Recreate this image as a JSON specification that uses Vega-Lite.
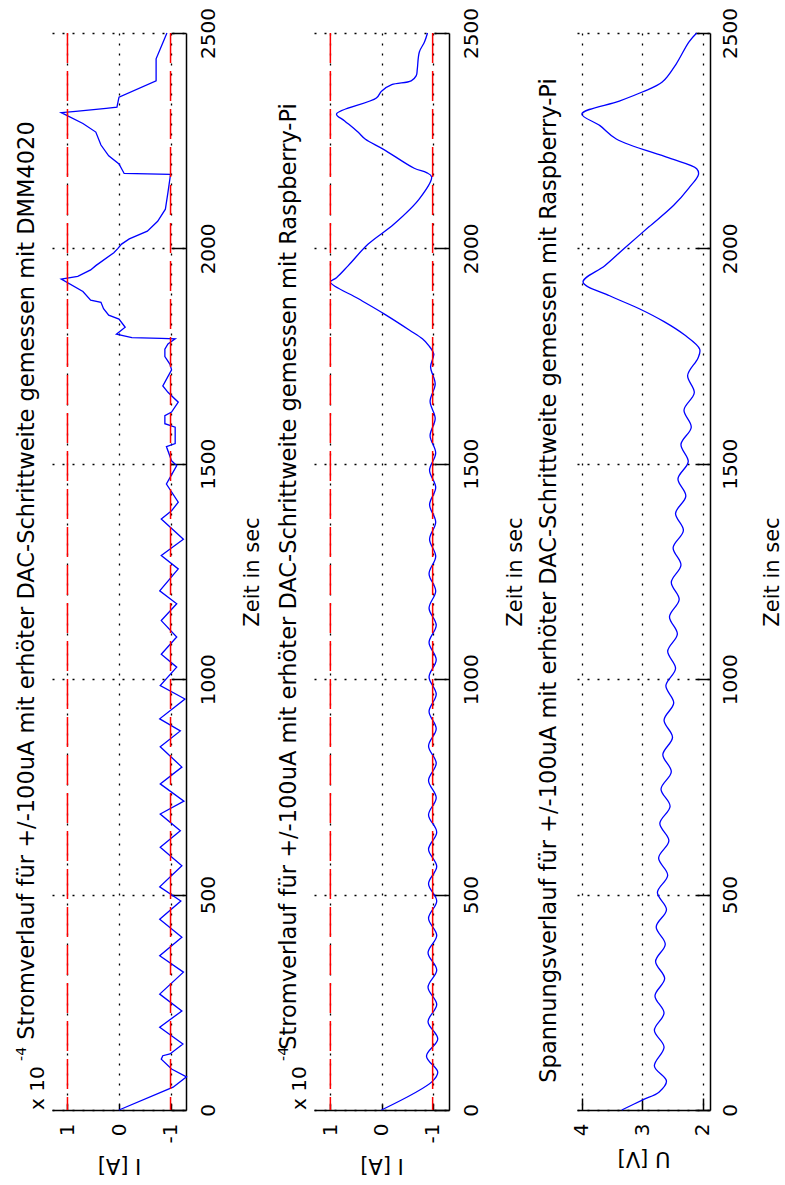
{
  "$schema": "https://vega.github.io/schema/vega-lite/v6.json",
  "background": "white",
  "padding": {"left": 14, "top": 7, "right": 0, "bottom": 0},
  "datasets": {
    "dmm": [
      {"t":0,"i":0},{"t":53,"i":-1.05},{"t":77,"i":-1.31},{"t":95,"i":-1.02},{"t":118,"i":-0.82},{"t":126,"i":-0.85},{"t":130,"i":-0.99},{"t":153,"i":-1.24},{"t":192,"i":-0.79},{"t":230,"i":-1.22},{"t":269,"i":-0.79},{"t":320,"i":-1.25},{"t":358,"i":-0.79},{"t":401,"i":-1.22},{"t":443,"i":-0.79},{"t":485,"i":-1.2},{"t":518,"i":-0.79},{"t":567,"i":-1.22},{"t":610,"i":-0.8},{"t":648,"i":-1.19},{"t":687,"i":-0.8},{"t":717,"i":-1.26},{"t":757,"i":-0.8},{"t":796,"i":-1.22},{"t":843,"i":-0.8},{"t":880,"i":-1.19},{"t":908,"i":-0.79},{"t":954,"i":-1.28},{"t":985,"i":-0.8},{"t":1028,"i":-1.12},{"t":1058,"i":-0.82},{"t":1098,"i":-1.12},{"t":1136,"i":-0.82},{"t":1175,"i":-1.12},{"t":1205,"i":-0.79},{"t":1256,"i":-1.15},{"t":1287,"i":-0.82},{"t":1325,"i":-1.25},{"t":1372,"i":-0.82},{"t":1391,"i":-1.02},{"t":1411,"i":-1.15},{"t":1453,"i":-0.92},{"t":1496,"i":-1.12},{"t":1507,"i":-1.02},{"t":1540,"i":-0.92},{"t":1547,"i":-1.09},{"t":1585,"i":-1.09},{"t":1593,"i":-0.89},{"t":1612,"i":-0.89},{"t":1620,"i":-1.02},{"t":1643,"i":-1.15},{"t":1666,"i":-0.95},{"t":1681,"i":-0.85},{"t":1718,"i":-1.02},{"t":1731,"i":-0.99},{"t":1749,"i":-0.89},{"t":1766,"i":-0.89},{"t":1778,"i":-0.95},{"t":1790,"i":-1.09},{"t":1791,"i":-0.82},{"t":1793,"i":-0.25},{"t":1801,"i":0.05},{"t":1817,"i":-0.12},{"t":1836,"i":0.0},{"t":1845,"i":0.2},{"t":1860,"i":0.3},{"t":1875,"i":0.35},{"t":1880,"i":0.55},{"t":1900,"i":0.7},{"t":1929,"i":1.12},{"t":1935,"i":0.8},{"t":1950,"i":0.55},{"t":1960,"i":0.45},{"t":1990,"i":0.1},{"t":2000,"i":0.02},{"t":2010,"i":-0.05},{"t":2022,"i":-0.2},{"t":2040,"i":-0.55},{"t":2063,"i":-0.75},{"t":2091,"i":-0.9},{"t":2130,"i":-0.95},{"t":2172,"i":-1.0},{"t":2174,"i":-0.1},{"t":2196,"i":0.0},{"t":2215,"i":0.2},{"t":2240,"i":0.35},{"t":2270,"i":0.45},{"t":2290,"i":0.7},{"t":2315,"i":1.12},{"t":2318,"i":0.84},{"t":2325,"i":0.25},{"t":2328,"i":0.04},{"t":2351,"i":0.0},{"t":2389,"i":-0.72},{"t":2440,"i":-0.72},{"t":2500,"i":-0.93}
    ],
    "rpi": [
      {"t":0,"i":0},{"t":67,"i":-1.0},{"t":88,"i":-1.1},{"t":125,"i":-0.88},{"t":165,"i":-1.1},{"t":205,"i":-0.91},{"t":245,"i":-1.08},{"t":285,"i":-0.91},{"t":325,"i":-1.08},{"t":365,"i":-0.91},{"t":405,"i":-1.08},{"t":445,"i":-0.92},{"t":485,"i":-1.08},{"t":525,"i":-0.92},{"t":565,"i":-1.08},{"t":605,"i":-0.92},{"t":645,"i":-1.08},{"t":685,"i":-0.92},{"t":725,"i":-1.07},{"t":765,"i":-0.92},{"t":805,"i":-1.07},{"t":845,"i":-0.92},{"t":885,"i":-1.07},{"t":925,"i":-0.93},{"t":965,"i":-1.07},{"t":1005,"i":-0.93},{"t":1045,"i":-1.07},{"t":1085,"i":-0.93},{"t":1125,"i":-1.07},{"t":1165,"i":-0.93},{"t":1205,"i":-1.06},{"t":1245,"i":-0.93},{"t":1285,"i":-1.06},{"t":1325,"i":-0.94},{"t":1365,"i":-1.06},{"t":1405,"i":-0.94},{"t":1445,"i":-1.06},{"t":1485,"i":-0.94},{"t":1525,"i":-1.06},{"t":1565,"i":-0.95},{"t":1605,"i":-1.05},{"t":1645,"i":-0.95},{"t":1685,"i":-1.05},{"t":1725,"i":-0.96},{"t":1755,"i":-1.02},{"t":1775,"i":-0.92},{"t":1790,"i":-0.8},{"t":1810,"i":-0.55},{"t":1848,"i":-0.05},{"t":1883,"i":0.45},{"t":1922,"i":1.0},{"t":1932,"i":0.88},{"t":1960,"i":0.65},{"t":2010,"i":0.26},{"t":2056,"i":-0.24},{"t":2115,"i":-0.74},{"t":2166,"i":-0.98},{"t":2176,"i":-0.88},{"t":2186,"i":-0.64},{"t":2230,"i":-0.04},{"t":2254,"i":0.32},{"t":2270,"i":0.46},{"t":2296,"i":0.72},{"t":2312,"i":0.88},{"t":2349,"i":0.1},{"t":2365,"i":0},{"t":2380,"i":-0.2},{"t":2389,"i":-0.58},{"t":2401,"i":-0.68},{"t":2416,"i":-0.7},{"t":2456,"i":-0.74},{"t":2479,"i":-0.84},{"t":2500,"i":-0.9}
    ],
    "volt": [
      {"t":0,"u":3.34},{"t":23,"u":3.0},{"t":42,"u":2.72},{"t":67,"u":2.6},{"t":102,"u":2.8},{"t":146,"u":2.64},{"t":185,"u":2.8},{"t":225,"u":2.64},{"t":265,"u":2.79},{"t":305,"u":2.63},{"t":345,"u":2.78},{"t":385,"u":2.62},{"t":425,"u":2.77},{"t":465,"u":2.6},{"t":505,"u":2.75},{"t":545,"u":2.58},{"t":585,"u":2.73},{"t":625,"u":2.56},{"t":665,"u":2.71},{"t":705,"u":2.54},{"t":745,"u":2.69},{"t":785,"u":2.52},{"t":825,"u":2.66},{"t":865,"u":2.5},{"t":905,"u":2.64},{"t":945,"u":2.48},{"t":985,"u":2.61},{"t":1025,"u":2.45},{"t":1065,"u":2.58},{"t":1105,"u":2.42},{"t":1145,"u":2.55},{"t":1185,"u":2.39},{"t":1225,"u":2.52},{"t":1265,"u":2.36},{"t":1305,"u":2.49},{"t":1345,"u":2.32},{"t":1385,"u":2.45},{"t":1425,"u":2.28},{"t":1465,"u":2.41},{"t":1505,"u":2.24},{"t":1545,"u":2.36},{"t":1585,"u":2.19},{"t":1625,"u":2.31},{"t":1665,"u":2.14},{"t":1705,"u":2.25},{"t":1745,"u":2.08},{"t":1766,"u":2.05},{"t":1800,"u":2.31},{"t":1830,"u":2.64},{"t":1860,"u":3.05},{"t":1890,"u":3.54},{"t":1922,"u":3.98},{"t":1960,"u":3.62},{"t":2000,"u":3.3},{"t":2050,"u":2.89},{"t":2100,"u":2.48},{"t":2140,"u":2.23},{"t":2172,"u":2.07},{"t":2185,"u":2.1},{"t":2210,"u":2.56},{"t":2254,"u":3.43},{"t":2285,"u":3.7},{"t":2312,"u":4.0},{"t":2342,"u":3.38},{"t":2363,"u":3.0},{"t":2386,"u":2.67},{"t":2428,"u":2.44},{"t":2479,"u":2.23},{"t":2500,"u":2.1}
    ]
  },
  "hconcat": [
    {
      "width": 134, "height": 1077,
      "title": {"text": "Stromverlauf für +/-100uA mit erhöter DAC-Schrittweite gemessen mit DMM4020", "orient": "left", "anchor": "middle", "frame": "group", "offset": -24, "dx": -9},
      "layer": [
        {
          "data": {"name": "dmm"},
          "mark": {"type": "line", "color": "#0000ff", "strokeWidth": 1.3},
          "encoding": {
            "x": {"field": "i", "type": "quantitative", "scale": {"domain": [-1.3, 1.3], "reverse": true, "nice": false, "zero": false},
                  "axis": {"orient": "bottom", "values": [-1, 0, 1], "labelExpr": "toString(datum.value)", "labelAngle": 270, "labelAlign": "right", "labelBaseline": "middle", "tickSize": -6, "labelPadding": 19, "title": "I [A]", "titleAngle": 180, "titleBaseline": "bottom", "titlePadding": 12}},
            "y": {"field": "t", "type": "quantitative", "scale": {"domain": [0, 2500], "nice": false},
                  "axis": {"orient": "right", "values": [0, 500, 1000, 1500, 2000, 2500], "format": "d", "labelAngle": 270, "labelAlign": "center", "labelBaseline": "top", "tickSize": -15, "labelPadding": 27, "title": "Zeit in sec", "titleAngle": 270, "titleBaseline": "top", "titlePadding": 23}},
            "order": {"field": "t", "type": "quantitative"}
          }
        },
        {
          "data": {"values": [{"lim": 1}, {"lim": -1}]},
          "mark": {"type": "rule", "color": "#ff0000", "strokeWidth": 1.5, "strokeDash": [30, 8]},
          "encoding": {"x": {"field": "lim", "type": "quantitative", "scale": {"domain": [-1.3, 1.3], "reverse": true, "nice": false, "zero": false}}}
        },
        {
          "data": {"values": [{"note": "x 10"}]},
          "mark": {"type": "text", "angle": 270, "align": "left", "baseline": "alphabetic", "fontSize": 20, "font": "DejaVu Sans", "color": "black"},
          "encoding": {"x": {"datum": 1.455, "type": "quantitative", "scale": {"domain": [-1.3, 1.3], "reverse": true, "nice": false, "zero": false}}, "y": {"datum": 0, "type": "quantitative", "scale": {"domain": [0, 2500], "nice": false}}, "text": {"field": "note"}}
        },
        {
          "data": {"values": [{"note": "-4"}]},
          "mark": {"type": "text", "angle": 270, "align": "left", "baseline": "alphabetic", "fontSize": 14, "font": "DejaVu Sans", "color": "black"},
          "encoding": {"x": {"datum": 1.805, "type": "quantitative", "scale": {"domain": [-1.3, 1.3], "reverse": true, "nice": false, "zero": false}}, "y": {"datum": 114, "type": "quantitative", "scale": {"domain": [0, 2500], "nice": false}}, "text": {"field": "note"}}
        }
      ]
    },
    {
      "width": 135, "height": 1077,
      "title": {"text": "Stromverlauf für +/-100uA mit erhöter DAC-Schrittweite gemessen mit Raspberry-Pi", "orient": "left", "anchor": "middle", "frame": "group", "offset": -24, "dx": -5},
      "layer": [
        {
          "data": {"name": "rpi"},
          "mark": {"type": "line", "color": "#0000ff", "strokeWidth": 1.3, "interpolate": "catmull-rom"},
          "encoding": {
            "x": {"field": "i", "type": "quantitative", "scale": {"domain": [-1.32, 1.32], "reverse": true, "nice": false, "zero": false},
                  "axis": {"orient": "bottom", "values": [-1, 0, 1], "labelExpr": "toString(datum.value)", "labelAngle": 270, "labelAlign": "right", "labelBaseline": "middle", "tickSize": -6, "labelPadding": 19, "title": "I [A]", "titleAngle": 180, "titleBaseline": "bottom", "titlePadding": 12}},
            "y": {"field": "t", "type": "quantitative", "scale": {"domain": [0, 2500], "nice": false},
                  "axis": {"orient": "right", "values": [0, 500, 1000, 1500, 2000, 2500], "format": "d", "labelAngle": 270, "labelAlign": "center", "labelBaseline": "top", "tickSize": -15, "labelPadding": 27, "title": "Zeit in sec", "titleAngle": 270, "titleBaseline": "top", "titlePadding": 23}},
            "order": {"field": "t", "type": "quantitative"}
          }
        },
        {
          "data": {"values": [{"lim": 1}, {"lim": -1}]},
          "mark": {"type": "rule", "color": "#ff0000", "strokeWidth": 1.5, "strokeDash": [30, 8]},
          "encoding": {"x": {"field": "lim", "type": "quantitative", "scale": {"domain": [-1.32, 1.32], "reverse": true, "nice": false, "zero": false}}}
        },
        {
          "data": {"values": [{"note": "x 10"}]},
          "mark": {"type": "text", "angle": 270, "align": "left", "baseline": "alphabetic", "fontSize": 20, "font": "DejaVu Sans", "color": "black"},
          "encoding": {"x": {"datum": 1.477, "type": "quantitative", "scale": {"domain": [-1.32, 1.32], "reverse": true, "nice": false, "zero": false}}, "y": {"datum": 0, "type": "quantitative", "scale": {"domain": [0, 2500], "nice": false}}, "text": {"field": "note"}}
        },
        {
          "data": {"values": [{"note": "-4"}]},
          "mark": {"type": "text", "angle": 270, "align": "left", "baseline": "alphabetic", "fontSize": 14, "font": "DejaVu Sans", "color": "black"},
          "encoding": {"x": {"datum": 1.83, "type": "quantitative", "scale": {"domain": [-1.32, 1.32], "reverse": true, "nice": false, "zero": false}}, "y": {"datum": 114, "type": "quantitative", "scale": {"domain": [0, 2500], "nice": false}}, "text": {"field": "note"}}
        }
      ]
    },
    {
      "width": 133, "height": 1077,
      "title": {"text": "Spannungsverlauf für +/-100uA mit erhöter DAC-Schrittweite gemessen mit Raspberry-Pi", "orient": "left", "anchor": "middle", "frame": "group", "offset": 11, "dx": -9},
      "layer": [
        {
          "data": {"name": "volt"},
          "mark": {"type": "line", "color": "#0000ff", "strokeWidth": 1.3, "interpolate": "catmull-rom"},
          "encoding": {
            "x": {"field": "u", "type": "quantitative", "scale": {"domain": [1.88, 4.08], "reverse": true, "nice": false, "zero": false},
                  "axis": {"orient": "bottom", "values": [2, 3, 4], "labelExpr": "toString(datum.value)", "labelAngle": 270, "labelAlign": "right", "labelBaseline": "middle", "tickSize": -12, "labelPadding": 25, "title": "U [V]", "titleAngle": 180, "titleBaseline": "bottom", "titlePadding": 12}},
            "y": {"field": "t", "type": "quantitative", "scale": {"domain": [0, 2500], "nice": false},
                  "axis": {"orient": "right", "values": [0, 500, 1000, 1500, 2000, 2500], "format": "d", "labelAngle": 270, "labelAlign": "center", "labelBaseline": "top", "tickSize": -15, "labelPadding": 25, "title": "Zeit in sec", "titleAngle": 270, "titleBaseline": "top", "titlePadding": 21}},
            "order": {"field": "t", "type": "quantitative"}
          }
        }
      ]
    }
  ],
  "spacing": 128,
  "bounds": "flush",
  "config": {
    "view": {"stroke": null},
    "font": "DejaVu Sans",
    "title": {"font": "DejaVu Sans", "fontSize": 22.5, "fontWeight": "normal", "color": "black"},
    "axis": {
      "labelFont": "DejaVu Sans", "titleFont": "DejaVu Sans", "labelFontSize": 20, "titleFontSize": 21,
      "titleFontWeight": "normal", "labelColor": "black", "titleColor": "black",
      "domainColor": "black", "domainWidth": 1.5, "tickColor": "black", "tickWidth": 1.5,
      "grid": true, "gridColor": "black", "gridDash": [2, 8], "gridWidth": 1.3, "gridOpacity": 1,
      "labelOverlap": false, "labelFlush": false
    }
  }
}
